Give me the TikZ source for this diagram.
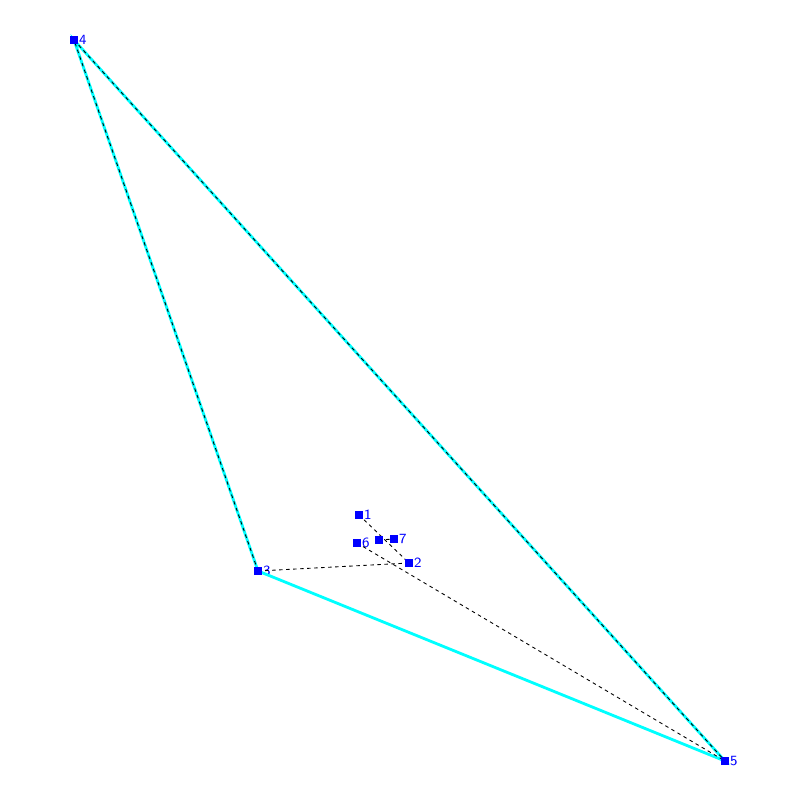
\documentclass[tikz,border=0pt]{standalone}
\usepackage{tikz}
\usetikzlibrary{positioning}
\definecolor{aqua}{RGB}{0,255,255}
\tikzset
{
    vertex/.style = {rectangle, fill=blue, inner sep=0pt, minimum size=0.14cm},
    vlabel/.style = {text=blue, font=\sffamily\fontsize{8}{8}\selectfont, inner sep=0.5pt, anchor=west},
    hull/.style   = {aqua, line width=1.6pt},
    link/.style   = {black, line width=0.5pt, dash pattern=on 2pt off 2pt}
}

\begin{document}
\begin{tikzpicture}[x=0.02cm, y=-0.02cm]
    \useasboundingbox (0,0) rectangle (800,800);
    \node [vertex] (p1) at (359,515) {};
    \node [vertex] (p2) at (409,563) {};
    \node [vertex] (p3) at (258,571) {};
    \node [vertex] (p4) at (74,40) {};
    \node [vertex] (p5) at (725,761) {};
    \node [vertex] (p6) at (357,543) {};
    \node [vertex] (p7) at (394,539) {};
    \node [vertex] (p8) at (379,540) {};
    \node [vlabel, right=0pt of p1] (l1) {1};
    \node [vlabel, right=0pt of p2] (l2) {2};
    \node [vlabel, right=0pt of p3] (l3) {3};
    \node [vlabel, right=0pt of p4] (l4) {4};
    \node [vlabel, right=0pt of p5] (l5) {5};
    \node [vlabel, right=0pt of p6] (l6) {6};
    \node [vlabel, right=0pt of p7] (l7) {7};
    % outer triangle
    \draw [hull] (p4.center) -- (p3.center) -- (p5.center) -- cycle;
    % dashed links
    \draw [link] (p3.center) -- (p4.center);
    \draw [link] (p4.center) -- (p5.center);
    \draw [link] (p3.center) -- (p2.center);
    \draw [link] (p1.center) -- (p2.center);
    \draw [link] (p6.center) -- (p5.center);
    \draw [link] (p8.center) -- (p7.center);
    % squares on top
    \foreach \p in {p1,p2,p3,p4,p5,p6,p7,p8}
        \fill [blue] (\p.south west) rectangle (\p.north east);
\end{tikzpicture}
\end{document}
